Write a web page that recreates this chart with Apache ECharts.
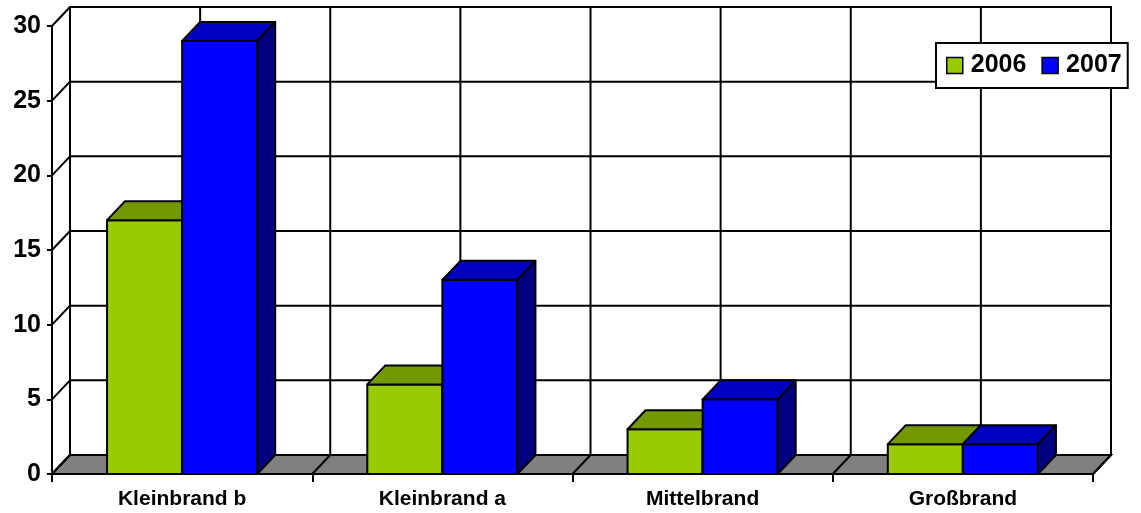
<!DOCTYPE html>
<html><head><meta charset="utf-8">
<script src="https://cdn.jsdelivr.net/npm/echarts@6/dist/echarts.min.js"></script>
<style>html,body{margin:0;padding:0;background:#fff}#c{width:1141px;height:513px}</style>
</head><body><div id="c"></div>
<script>
const categories = ['Kleinbrand b', 'Kleinbrand a', 'Mittelbrand', 'Großbrand'];
const seriesNames = ['2006', '2007'];
const values2006 = [17, 6, 3, 2];
const values2007 = [29, 13, 5, 2];
const yTicks = [0, 5, 10, 15, 20, 25, 30];

const DX = 18, DY = -19;
const FONT = '"Liberation Sans", Arial, sans-serif';
const colors = {
  '2006': { front: '#99CC00', top: '#739900', side: '#4C6600' },
  '2007': { front: '#0000FF', top: '#0000C0', side: '#000080' }
};
const BAR_FRAC = 75 / 260;

function wallRender(params, api) {
  const cs = params.coordSys;
  const left = cs.x, right = cs.x + cs.width;
  const y0 = api.coord([0, 0])[1];
  const yTop = api.coord([0, yTicks[yTicks.length - 1]])[1];
  const band = cs.width / categories.length;
  const ls = { stroke: '#000', lineWidth: 2 };
  const children = [];
  children.push({ type: 'polygon', shape: { points: [[left + DX, y0 + DY], [right + DX, y0 + DY], [right + DX, yTop + DY], [left + DX, yTop + DY]] }, style: { fill: '#fff', stroke: '#000', lineWidth: 2 } });
  yTicks.forEach(v => {
    const y = api.coord([0, v])[1];
    children.push({ type: 'line', shape: { x1: left + DX, y1: y + DY, x2: right + DX, y2: y + DY }, style: ls });
    children.push({ type: 'line', shape: { x1: left, y1: y, x2: left + DX, y2: y + DY }, style: ls });
  });
  for (let k = 0; k <= categories.length * 2; k++) {
    const x = left + k * band / 2 + DX;
    children.push({ type: 'line', shape: { x1: x, y1: yTop + DY, x2: x, y2: y0 + DY }, style: ls });
  }
  children.push({ type: 'polygon', shape: { points: [[left, y0], [right, y0], [right + DX, y0 + DY], [left + DX, y0 + DY]] }, style: { fill: '#808080', stroke: '#000', lineWidth: 2 } });
  for (let k = 0; k <= categories.length; k++) {
    const x = left + k * band;
    children.push({ type: 'line', shape: { x1: x, y1: y0, x2: x + DX, y2: y0 + DY }, style: ls });
  }
  return { type: 'group', children };
}

function barRender(name, idx) {
  return function (params, api) {
    const cat = api.value(0), val = api.value(1);
    const base = api.coord([cat, 0]);
    const top = api.coord([cat, val]);
    const band = api.size([1, 0])[0];
    const w = band * BAR_FRAC;
    const x1 = base[0] + (idx === 0 ? -w : 0), x2 = x1 + w;
    const yb = base[1], yt = top[1];
    const c = colors[name];
    const st = { stroke: '#000', lineWidth: 2, lineJoin: 'round' };
    return {
      type: 'group', children: [
        { type: 'polygon', shape: { points: [[x1, yb], [x2, yb], [x2, yt], [x1, yt]] }, style: Object.assign({ fill: c.front }, st) },
        { type: 'polygon', shape: { points: [[x1, yt], [x2, yt], [x2 + DX, yt + DY], [x1 + DX, yt + DY]] }, style: Object.assign({ fill: c.top }, st) },
        { type: 'polygon', shape: { points: [[x2, yb], [x2 + DX, yb + DY], [x2 + DX, yt + DY], [x2, yt]] }, style: Object.assign({ fill: c.side }, st) }
      ]
    };
  };
}

const chart = echarts.init(document.getElementById('c'));
const seriesData = [values2006, values2007];
chart.setOption({
  animation: false,
  backgroundColor: '#fff',
  grid: { left: 52, right: 48, top: 26, bottom: 39 },
  legend: {
    left: 936, top: 43,
    data: seriesNames.map(n => ({ name: n, icon: 'rect' })),
    itemWidth: 16, itemHeight: 16, itemGap: 15,
    padding: [10, 6, 10, 10],
    backgroundColor: '#fff', borderColor: '#000', borderWidth: 2,
    itemStyle: { borderColor: '#000', borderWidth: 1.5 },
    textStyle: { fontFamily: FONT, fontWeight: 'bold', fontSize: 25, color: '#000', padding: [0, 0, 0, 3] }
  },
  xAxis: {
    type: 'category', data: categories, boundaryGap: true, z: 5,
    axisLine: { lineStyle: { color: '#000', width: 2 } },
    axisTick: { show: true, length: 8, lineStyle: { color: '#000', width: 2 } },
    axisLabel: { fontFamily: FONT, fontWeight: 'bold', fontSize: 21, color: '#000', margin: 15 },
    splitLine: { show: false }
  },
  yAxis: {
    type: 'value', min: 0, max: 30, interval: 5, z: 5,
    axisLine: { show: true, lineStyle: { color: '#000', width: 2 } },
    axisTick: { show: true, length: 5, lineStyle: { color: '#000', width: 2 } },
    axisLabel: { fontFamily: FONT, fontWeight: 'bold', fontSize: 25, color: '#000', margin: 11 },
    splitLine: { show: false }
  },
  series: [
    { type: 'custom', name: '_walls', z: 1, silent: true, data: [[0, 0]], renderItem: wallRender, clip: false },
    ...seriesNames.map((n, i) => ({
      type: 'custom', name: n, z: 2, clip: false,
      itemStyle: { color: colors[n].front },
      data: seriesData[i].map((v, j) => [j, v]),
      renderItem: barRender(n, i)
    }))
  ]
});
</script>
</body></html>
